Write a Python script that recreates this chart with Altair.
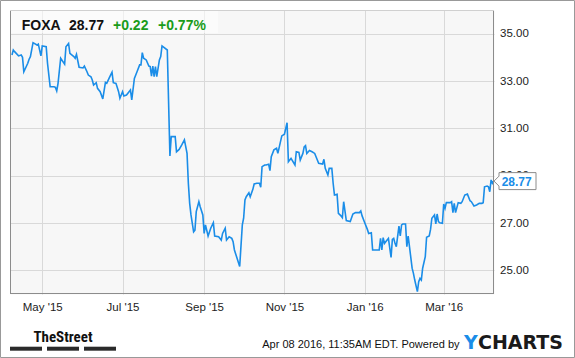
import altair as alt
import pandas as pd

# ---- data ----
dates = [
    "2015-04-08", "2015-04-09", "2015-04-10", "2015-04-13", "2015-04-15", "2015-04-16", "2015-04-17",
    "2015-04-20", "2015-04-21", "2015-04-22", "2015-04-24", "2015-04-27", "2015-04-28", "2015-04-30",
    "2015-05-01", "2015-05-04", "2015-05-05", "2015-05-07", "2015-05-10", "2015-05-11", "2015-05-12",
    "2015-05-13", "2015-05-15", "2015-05-18", "2015-05-19", "2015-05-21", "2015-05-22", "2015-05-25",
    "2015-05-26", "2015-05-27", "2015-05-29",
    "2015-06-01", "2015-06-02", "2015-06-04", "2015-06-05", "2015-06-07", "2015-06-08", "2015-06-09",
    "2015-06-11", "2015-06-12", "2015-06-14", "2015-06-16", "2015-06-18", "2015-06-19", "2015-06-21",
    "2015-06-23", "2015-06-24", "2015-06-26", "2015-06-28", "2015-06-29",
    "2015-07-01", "2015-07-02", "2015-07-04", "2015-07-07", "2015-07-08", "2015-07-10", "2015-07-12",
    "2015-07-14", "2015-07-15", "2015-07-16", "2015-07-17", "2015-07-19", "2015-07-21", "2015-07-22",
    "2015-07-23", "2015-07-24", "2015-07-25", "2015-07-26", "2015-07-27", "2015-07-29", "2015-07-30",
    "2015-07-31",
    "2015-08-04", "2015-08-06", "2015-08-07", "2015-08-10", "2015-08-11", "2015-08-13", "2015-08-15",
    "2015-08-17", "2015-08-19", "2015-08-20", "2015-08-21", "2015-08-22", "2015-08-24", "2015-08-25",
    "2015-08-26", "2015-08-28", "2015-08-29", "2015-08-31",
    "2015-09-01", "2015-09-02", "2015-09-04", "2015-09-06", "2015-09-08", "2015-09-09", "2015-09-12",
    "2015-09-14", "2015-09-15", "2015-09-17", "2015-09-18", "2015-09-20", "2015-09-22", "2015-09-23",
    "2015-09-24", "2015-09-26", "2015-09-28", "2015-09-30",
    "2015-10-01", "2015-10-02", "2015-10-03", "2015-10-05", "2015-10-06", "2015-10-08", "2015-10-09",
    "2015-10-11", "2015-10-13", "2015-10-14", "2015-10-15", "2015-10-17", "2015-10-18", "2015-10-20",
    "2015-10-21", "2015-10-22", "2015-10-24", "2015-10-26", "2015-10-27", "2015-10-29", "2015-10-30",
    "2015-11-01", "2015-11-03", "2015-11-04", "2015-11-05", "2015-11-06", "2015-11-09", "2015-11-10",
    "2015-11-12", "2015-11-13", "2015-11-15", "2015-11-16", "2015-11-17", "2015-11-18", "2015-11-20",
    "2015-11-22", "2015-11-24", "2015-11-25", "2015-11-27", "2015-11-30",
    "2015-12-01", "2015-12-02", "2015-12-04", "2015-12-05", "2015-12-07", "2015-12-08", "2015-12-09",
    "2015-12-11", "2015-12-12", "2015-12-14", "2015-12-15", "2015-12-16", "2015-12-18", "2015-12-21",
    "2015-12-23", "2015-12-25", "2015-12-28", "2015-12-29", "2015-12-30",
    "2016-01-01", "2016-01-03", "2016-01-04", "2016-01-06", "2016-01-07", "2016-01-10", "2016-01-12",
    "2016-01-13", "2016-01-14", "2016-01-15", "2016-01-16", "2016-01-18", "2016-01-19", "2016-01-21",
    "2016-01-22", "2016-01-23", "2016-01-24", "2016-01-25", "2016-01-27", "2016-01-28", "2016-01-29",
    "2016-01-30",
    "2016-02-01", "2016-02-02", "2016-02-03", "2016-02-04", "2016-02-06", "2016-02-07", "2016-02-08",
    "2016-02-10", "2016-02-11", "2016-02-12", "2016-02-13", "2016-02-14", "2016-02-16", "2016-02-17",
    "2016-02-19", "2016-02-20", "2016-02-21", "2016-02-23", "2016-02-24", "2016-02-25", "2016-02-26",
    "2016-02-27", "2016-02-29",
    "2016-03-01", "2016-03-02", "2016-03-03", "2016-03-06", "2016-03-07", "2016-03-08", "2016-03-09",
    "2016-03-10", "2016-03-12", "2016-03-14", "2016-03-15", "2016-03-17", "2016-03-19", "2016-03-21",
    "2016-03-22", "2016-03-24", "2016-03-26", "2016-03-28", "2016-03-30", "2016-03-31",
    "2016-04-01", "2016-04-03", "2016-04-04", "2016-04-05", "2016-04-06", "2016-04-07", "2016-04-08",
]

prices = [
    34.10, 34.31, 34.24, 34.06, 34.10, 34.00, 33.39, 33.75, 33.92, 34.03, 34.62, 34.52, 34.56, 34.06,
    34.48, 34.45, 33.75, 32.76, 32.76, 32.73, 32.58, 32.90, 33.96, 33.71, 34.45, 34.59, 34.17, 34.03,
    33.96, 34.13, 33.58,
    33.55, 33.63, 33.39, 33.25, 33.18, 33.04, 32.83, 32.93, 32.69, 32.55, 32.24, 32.94, 32.90, 33.14,
    33.37, 32.93, 32.90, 32.55, 32.27,
    32.55, 32.37, 32.41, 32.62, 32.20, 33.11, 33.39, 33.68, 33.68, 34.20, 33.96, 33.89, 33.63, 33.61,
    33.21, 33.63, 33.18, 33.61, 33.18, 33.89, 34.03, 34.48,
    34.31, 29.83, 30.65, 30.65, 30.01, 30.11, 30.30, 30.51, 29.94, 28.68, 27.83, 27.34, 26.63, 26.70,
    27.48, 27.90, 27.69, 27.34,
    26.56, 26.92, 26.45, 26.78, 27.01, 26.45, 26.42, 26.28, 26.56, 26.78, 26.28, 26.42, 26.35, 26.21,
    25.86, 25.51, 25.16, 26.92,
    27.20, 27.97, 28.11, 28.28, 28.11, 28.42, 28.65, 28.68, 28.68, 28.51, 29.38, 29.45, 29.45, 29.48,
    29.21, 29.80, 30.09, 30.16, 29.94, 30.44, 30.68,
    30.75, 31.24, 29.59, 29.66, 29.73, 29.45, 30.01, 29.98, 29.66, 29.94, 30.22, 30.27, 29.94, 30.06,
    30.01, 29.94, 29.80, 29.52, 29.49,
    29.69, 29.31, 29.03, 29.31, 29.31, 28.68, 28.18, 28.21, 27.41, 27.30, 27.23, 27.90, 27.10, 27.06,
    27.38, 27.44, 27.44, 27.51, 27.30,
    27.01, 26.73, 26.56, 26.59, 25.86, 25.86, 25.86, 26.35, 25.86, 26.38, 26.14, 26.28, 26.35, 25.55,
    26.31, 26.35, 26.14, 26.00, 26.87, 26.45, 26.92, 26.96,
    26.96, 26.00, 26.45, 26.00, 25.09, 24.87, 24.59, 24.10, 24.52, 24.66, 24.59, 25.09, 25.58, 26.40,
    26.45, 26.73, 27.20, 27.34, 26.96, 27.38, 27.06, 27.01, 26.99,
    27.80, 27.62, 27.86, 27.86, 27.90, 27.44, 27.83, 27.44, 27.86, 27.83, 27.90, 28.18, 28.22, 27.94,
    27.90, 27.72, 27.76, 27.83, 27.83, 27.86,
    28.53, 28.56, 28.53, 28.32, 28.82, 28.68, 28.77,
]

y_ticks = [25, 27, 29, 31, 33, 35]
x_tick_months = [(2015, 5), (2015, 7), (2015, 9), (2015, 11), (2016, 1), (2016, 3)]
ticker = "FOXA"
last_price = "28.77"
change_abs = "+0.22"
change_pct = "+0.77%"
footer_text = "Apr 08 2016, 11:35AM EDT.  Powered by"
brand_left = "TheStreet"
brand_y = "Y"
brand_rest = "CHARTS"

# ---- styling ----
W, H = 484, 284
BLUE = "#1a8de8"
GREEN = "#1a9c1a"
GRID = "#d9d9d9"
FRAME = "#8c8c8c"
FONT = "Liberation Sans"

df = pd.DataFrame({"date": dates, "price": prices})
last = df.tail(1)
dec = pd.DataFrame({"k": [0]})

x_scale = alt.Scale(
    type="utc",
    domain=[
        alt.DateTime(year=2015, month=4, date=6, hours=12, utc=True),
        alt.DateTime(year=2016, month=4, date=8, hours=5, utc=True),
    ],
)
y_scale = alt.Scale(domain=[24, 36], nice=False, zero=False)

x_axis = alt.Axis(
    values=[alt.DateTime(year=y, month=m, date=1, utc=True) for y, m in x_tick_months],
    format="%b '%y", grid=True, gridColor=GRID, domain=False, ticks=False,
    labelPadding=7, labelFont=FONT, labelFontSize=11.5, labelColor="#222",
    title=None, labelFlush=False, labelOverlap=False,
)
y_axis = alt.Axis(
    orient="right", values=y_ticks, format=".2f", grid=True, gridColor=GRID,
    domain=False, ticks=False, labelPadding=5.5, labelFont=FONT, labelFontSize=11.5,
    labelColor="#222", title=None,
)

line = alt.Chart(df).mark_line(color=BLUE, strokeWidth=1.6).encode(
    x=alt.X("date:T", scale=x_scale, axis=x_axis),
    y=alt.Y("price:Q", scale=y_scale, axis=y_axis),
)

def rule(x, x2, y, y2, color):
    return alt.Chart(dec).mark_rule(color=color, strokeWidth=1).encode(
        x=alt.value(x), x2=alt.value(x2), y=alt.value(y), y2=alt.value(y2)
    )

frame = [
    rule(0.5, 0.5, 0, H, FRAME),
    rule(W - 0.5, W - 0.5, 0, H, FRAME),
    rule(0, W, H - 0.5, H - 0.5, FRAME),
    rule(0, W, 0.5, 0.5, "#d0d0d0"),
]

outer = alt.Chart(dec).mark_rect(fillOpacity=0, stroke="#999999", strokeWidth=1).encode(
    x=alt.value(-9.5), x2=alt.value(564.5), y=alt.value(-9.5), y2=alt.value(347.5)
)

title_box = alt.Chart(dec).mark_rect(fill="white", opacity=0.55).encode(
    x=alt.value(1), x2=alt.value(208), y=alt.value(1), y2=alt.value(23)
)

def label(text, x, y, color="#111", size=14, weight="bold", align="left", font=FONT):
    return alt.Chart(dec).mark_text(
        align=align, baseline="alphabetic", font=font, fontWeight=weight,
        fontSize=size, color=color,
    ).encode(x=alt.value(x), y=alt.value(y), text=alt.value(text))

titles = [
    label(ticker, 11.7, 19.5),
    label(last_price, 59, 19.5),
    label(change_abs, 103, 19.5, color=GREEN),
    label(change_pct, 148, 19.5, color=GREEN),
]

footer = [
    label(footer_text, 449.5, 338.3, color="#111", size=11, weight="normal", align="right"),
    label(brand_y, 454, 339, color=BLUE, size=19, font="DejaVu Sans"),
    label(brand_rest, 468, 339, color="#1a1a1a", size=19, font="DejaVu Sans"),
    label(brand_left, 53, 331.7, color="#111", size=15, align="center",
          font="Liberation Sans Narrow, Roboto Condensed, Liberation Sans"),
]

bars = [
    alt.Chart(dec).mark_rect(color="#2a2a2a").encode(
        x=alt.value(a), x2=alt.value(b), y=alt.value(336.7), y2=alt.value(340.7)
    )
    for a, b in [(0, 32), (37, 69), (74, 106)]
]

callout_path = "M-1,-0.459 L1,-0.459 L1,0.459 L-1,0.459 L-1,0.27 L-1.27,0 L-1,-0.27 Z"
callout_box = alt.Chart(last).mark_point(
    shape=callout_path, filled=True, fill="white", stroke=FRAME, strokeWidth=1,
    size=1369, opacity=1,
).encode(x=alt.value(507.5), y=alt.Y("price:Q", scale=y_scale, axis=y_axis))

callout_text = alt.Chart(last).mark_text(
    align="center", baseline="middle", font=FONT, fontWeight="bold",
    fontSize=12, color=BLUE, dy=1,
).encode(
    x=alt.value(506.7),
    y=alt.Y("price:Q", scale=y_scale, axis=y_axis),
    text=alt.Text("price:Q", format=".2f"),
)

chart = alt.layer(
    line, *frame, outer, title_box, *titles, *footer, *bars, callout_box, callout_text
).properties(
    width=W, height=H,
    padding={"left": 10, "top": 10, "right": 81, "bottom": 64},
    autosize=alt.AutoSizeParams(type="none"),
    background="white",
).configure_view(fill="#f7f7f7", stroke="transparent")

chart.save("out.html", embed_options={"renderer": "svg", "actions": False})
